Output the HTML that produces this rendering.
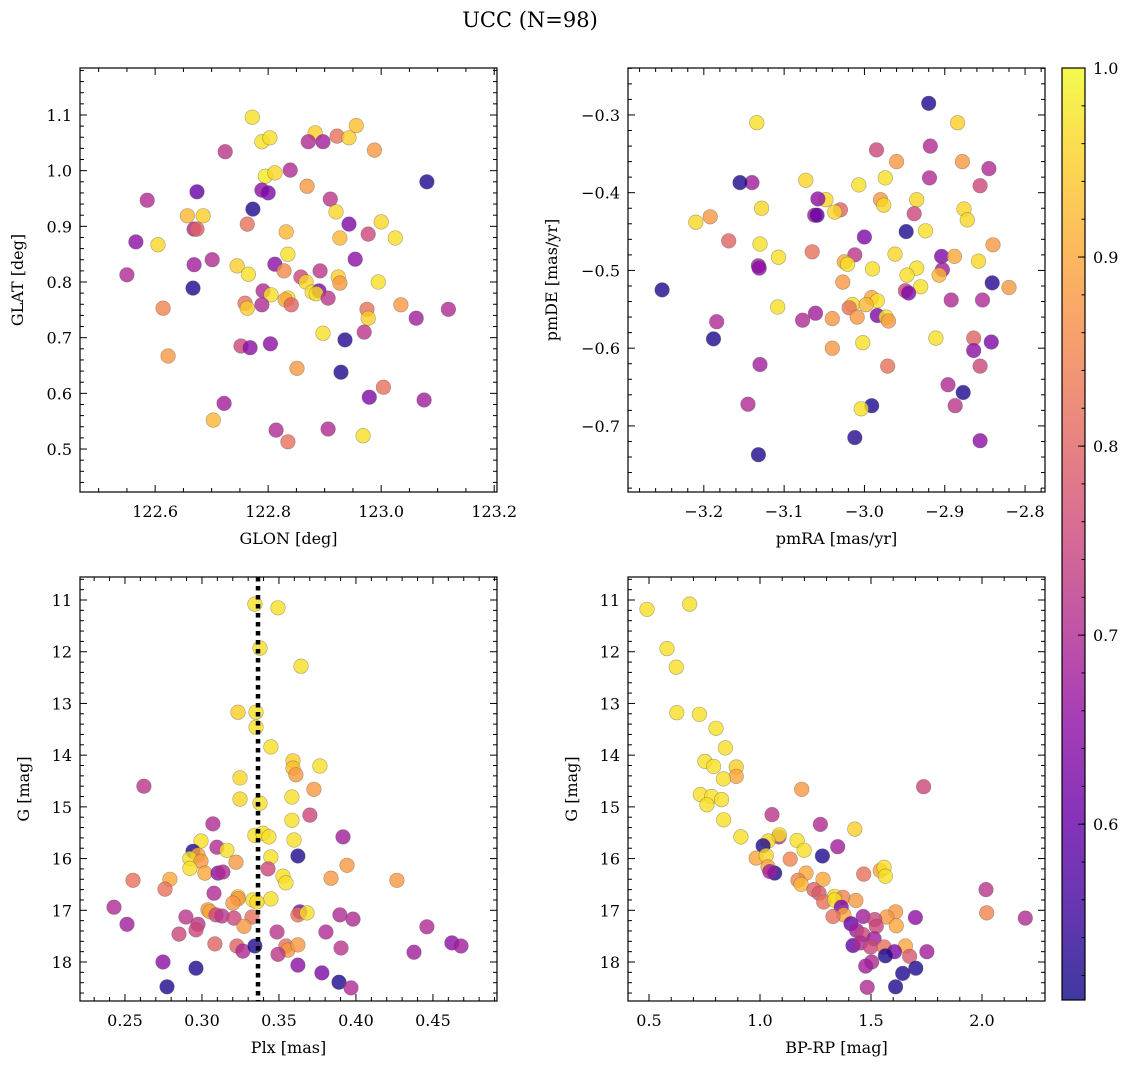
<!DOCTYPE html>
<html><head><meta charset="utf-8"><style>
html,body{margin:0;padding:0;background:#fff;}
svg{display:block;font-family:"DejaVu Serif","Liberation Serif",serif;}
</style></head><body>
<svg id="fig" width="1136" height="1068" viewBox="0 0 1136 1068" xmlns="http://www.w3.org/2000/svg">
<defs>
<linearGradient id="plasmaGrad" x1="0" y1="1" x2="0" y2="0">
<stop offset="0" stop-color="#0d0887"/><stop offset="0.1" stop-color="#41049d"/><stop offset="0.2" stop-color="#6a00a8"/><stop offset="0.3" stop-color="#8f0da4"/><stop offset="0.4" stop-color="#b12a90"/><stop offset="0.5" stop-color="#cc4778"/><stop offset="0.6" stop-color="#e16462"/><stop offset="0.7" stop-color="#f2844b"/><stop offset="0.8" stop-color="#fca636"/><stop offset="0.9" stop-color="#fcce25"/><stop offset="1" stop-color="#f0f921"/>
</linearGradient>
</defs>
<text x="530" y="27" font-size="21" text-anchor="middle">UCC (N=98)</text>
</svg>
<script>
// ---- Panel 1: GLON / GLAT ----
const p1Lon=[122.772,122.956,122.883,122.922,122.943,122.871,122.897,122.789,122.803,122.988,122.724,122.795,122.812,122.839,122.789,122.800,122.869,122.674,122.586,122.773,122.910,123.081,122.920,122.657,122.685,123.000,122.669,122.674,122.763,122.832,122.943,123.025,122.927,122.977,122.605,122.566,122.835,122.812,122.701,122.669,122.745,122.765,122.828,122.892,122.954,122.550,122.667,122.858,122.867,122.924,122.927,122.995,122.791,122.878,122.890,122.885,122.805,122.835,122.830,122.841,122.906,122.789,122.759,122.763,122.975,123.035,122.977,123.062,123.119,122.897,122.970,122.936,122.752,122.768,122.804,122.623,122.614,122.851,122.929,123.004,122.979,123.076,122.722,122.703,122.814,122.906,122.968,122.835];
const p1Lat=[1.096,1.081,1.068,1.062,1.059,1.052,1.052,1.052,1.059,1.037,1.034,0.990,0.996,1.001,0.965,0.960,0.972,0.962,0.947,0.931,0.949,0.980,0.926,0.919,0.919,0.908,0.895,0.895,0.904,0.890,0.904,0.879,0.879,0.886,0.867,0.872,0.850,0.832,0.840,0.831,0.829,0.814,0.820,0.820,0.841,0.813,0.789,0.809,0.800,0.809,0.798,0.800,0.784,0.782,0.784,0.779,0.777,0.771,0.768,0.759,0.771,0.759,0.762,0.753,0.751,0.759,0.735,0.735,0.751,0.708,0.710,0.696,0.685,0.682,0.689,0.667,0.753,0.645,0.638,0.611,0.593,0.588,0.582,0.552,0.534,0.536,0.524,0.513];
const p1Prob=[.97,.93,.95,.82,.95,.70,.68,.97,.97,.88,.72,.98,.96,.70,.65,.63,.88,.60,.70,.52,.72,.52,.96,.92,.95,.96,.70,.80,.82,.92,.63,.97,.92,.75,.96,.65,.97,.65,.70,.68,.95,.97,.86,.72,.65,.70,.52,.75,.96,.95,.88,.97,.70,.97,.63,.97,.97,.97,.90,.80,.72,.70,.82,.95,.82,.88,.95,.68,.70,.97,.72,.53,.75,.65,.65,.88,.85,.88,.52,.82,.63,.68,.68,.92,.70,.70,.97,.82];
// ---- Panel 2: pmRA / pmDE ----
const p2Ra=[-2.920,-3.134,-2.884,-2.918,-2.985,-2.960,-2.878,-2.919,-2.845,-3.073,-2.974,-3.140,-3.155,-2.856,-3.007,-3.048,-3.058,-2.935,-2.980,-2.976,-3.030,-3.128,-3.037,-3.062,-3.059,-2.938,-2.876,-2.872,-3.210,-3.192,-2.924,-2.948,-3.000,-3.169,-3.130,-2.840,-2.904,-2.888,-3.065,-3.012,-3.107,-2.858,-2.962,-3.025,-3.021,-3.132,-3.131,-2.935,-2.990,-2.903,-2.947,-2.907,-2.841,-3.027,-2.930,-2.820,-2.949,-2.945,-3.252,-2.991,-2.984,-2.892,-3.015,-2.998,-2.853,-3.019,-3.108,-2.984,-3.009,-3.061,-2.973,-3.040,-3.077,-2.970,-3.184,-2.864,-2.911,-3.188,-2.842,-3.002,-3.040,-2.864,-3.130,-2.971,-2.856,-2.896,-2.877,-2.887,-2.991,-3.145,-3.004,-3.012,-2.856,-3.132];
const p2De=[-0.285,-0.310,-0.310,-0.340,-0.345,-0.360,-0.360,-0.381,-0.369,-0.384,-0.381,-0.387,-0.387,-0.391,-0.390,-0.409,-0.408,-0.409,-0.409,-0.416,-0.422,-0.420,-0.425,-0.429,-0.429,-0.427,-0.421,-0.435,-0.438,-0.431,-0.449,-0.450,-0.457,-0.462,-0.466,-0.467,-0.482,-0.482,-0.476,-0.480,-0.483,-0.488,-0.479,-0.489,-0.492,-0.494,-0.497,-0.497,-0.498,-0.499,-0.506,-0.506,-0.516,-0.515,-0.521,-0.522,-0.526,-0.529,-0.525,-0.535,-0.539,-0.538,-0.544,-0.544,-0.538,-0.548,-0.547,-0.558,-0.560,-0.555,-0.560,-0.562,-0.564,-0.565,-0.566,-0.587,-0.587,-0.588,-0.592,-0.593,-0.600,-0.603,-0.621,-0.623,-0.623,-0.647,-0.657,-0.674,-0.674,-0.672,-0.678,-0.715,-0.719,-0.737];
const p2Prob=[.52,.97,.95,.70,.75,.88,.88,.70,.70,.96,.97,.68,.52,.75,.97,.96,.65,.96,.88,.96,.80,.96,.96,.68,.60,.75,.96,.96,.96,.88,.97,.52,.63,.80,.97,.88,.63,.90,.82,.72,.97,.96,.96,.90,.97,.68,.65,.97,.97,.68,.97,.92,.53,.88,.97,.88,.75,.63,.52,.90,.97,.70,.97,.92,.70,.82,.97,.63,.88,.68,.97,.88,.70,.88,.70,.80,.97,.52,.63,.97,.88,.65,.68,.82,.75,.70,.52,.72,.52,.70,.97,.53,.65,.52];
// ---- Panel 3: Plx / G ----
const p3Plx=[0.3344,0.3494,0.3377,0.3643,0.3234,0.3351,0.3351,0.3448,0.3591,0.3591,0.3610,0.3766,0.2623,0.3247,0.3727,0.3247,0.3377,0.3584,0.3701,0.3071,0.3584,0.3916,0.2994,0.3344,0.3396,0.3435,0.3598,0.2942,0.2974,0.3097,0.3162,0.2922,0.2994,0.3448,0.3623,0.3221,0.3942,0.2922,0.2552,0.2792,0.3019,0.3104,0.3136,0.3429,0.3526,0.3545,0.4266,0.3838,0.2760,0.3078,0.3234,0.3448,0.3331,0.3357,0.3234,0.3201,0.3039,0.3052,0.3091,0.3130,0.3208,0.3325,0.3636,0.3623,0.3682,0.3896,0.3981,0.2429,0.2513,0.2896,0.3273,0.2974,0.2961,0.2851,0.3487,0.3805,0.4461,0.3084,0.3227,0.3266,0.3545,0.3558,0.3623,0.3903,0.4623,0.4682,0.4377,0.3344,0.3494,0.3623,0.2747,0.2961,0.3779,0.3890,0.2773,0.3968];
const p3G=[11.08,11.15,11.93,12.28,13.17,13.17,13.46,13.84,14.11,14.25,14.38,14.21,14.60,14.44,14.66,14.85,14.93,14.81,15.16,15.33,15.26,15.58,15.66,15.55,15.51,15.58,15.64,15.86,15.93,15.78,15.84,16.00,16.05,15.97,15.95,16.07,16.13,16.19,16.42,16.40,16.28,16.28,16.26,16.20,16.34,16.47,16.42,16.38,16.59,16.67,16.74,16.78,16.80,16.84,16.78,16.86,16.99,17.03,17.09,17.11,17.15,17.13,17.03,17.09,17.05,17.09,17.17,16.94,17.27,17.13,17.31,17.27,17.38,17.46,17.42,17.42,17.32,17.65,17.69,17.79,17.69,17.77,17.67,17.73,17.63,17.69,17.81,17.69,17.85,18.06,18.00,18.12,18.21,18.39,18.48,18.50];
const p3Prob=[.97,.97,.97,.97,.95,.97,.97,.97,.95,.93,.88,.97,.72,.96,.88,.96,.97,.97,.75,.70,.97,.68,.97,.97,.97,.97,.97,.52,.90,.70,.97,.97,.88,.97,.52,.88,.88,.97,.82,.90,.90,.65,.70,.75,.97,.97,.88,.88,.82,.70,.93,.97,.97,.96,.88,.88,.88,.90,.75,.72,.75,.82,.63,.82,.97,.70,.70,.70,.68,.72,.88,.72,.75,.75,.72,.70,.70,.80,.80,.70,.82,.88,.88,.72,.65,.68,.68,.52,.72,.65,.65,.52,.63,.52,.52,.70];
const plxMedian=[0.3364];
// ---- Panel 4: BP-RP / G ----
const p4Col=[0.491,0.683,0.581,0.623,0.625,0.727,0.802,0.844,0.752,0.791,0.893,0.893,0.835,1.188,1.737,0.731,0.782,0.827,0.761,0.836,1.054,1.272,1.427,0.914,1.085,1.087,1.037,1.014,1.167,1.350,1.199,1.281,0.983,1.028,1.136,1.036,1.066,1.044,1.207,1.467,1.542,1.559,1.565,1.284,1.171,1.185,2.018,1.243,1.266,1.336,1.374,1.432,1.287,1.336,1.366,2.021,2.195,1.700,1.611,1.571,1.614,1.465,1.378,1.329,1.517,1.524,1.410,1.435,1.464,1.514,1.419,1.453,1.498,1.559,1.655,1.606,1.565,1.674,1.752,1.503,1.476,1.702,1.643,1.611,1.483];
const p4G=[11.18,11.08,11.94,12.30,13.18,13.21,13.48,13.86,14.12,14.22,14.23,14.41,14.46,14.66,14.61,14.76,14.80,14.86,14.96,15.25,15.15,15.34,15.43,15.58,15.58,15.54,15.66,15.75,15.65,15.77,15.84,15.95,15.99,15.94,16.01,16.16,16.28,16.25,16.28,16.30,16.23,16.17,16.34,16.40,16.42,16.50,16.60,16.60,16.67,16.73,16.75,16.81,16.84,16.80,16.94,17.05,17.15,17.14,17.03,17.13,17.30,17.12,17.09,17.12,17.18,17.31,17.26,17.39,17.47,17.55,17.68,17.63,17.71,17.71,17.69,17.80,17.88,17.89,17.80,18.00,18.08,18.12,18.22,18.48,18.49];
const p4Prob=[.97,.97,.97,.97,.97,.97,.97,.97,.97,.97,.95,.90,.97,.88,.75,.97,.97,.97,.97,.97,.72,.70,.95,.97,.70,.97,.96,.52,.97,.68,.97,.52,.90,.96,.85,.90,.52,.68,.90,.82,.90,.97,.97,.90,.85,.92,.72,.80,.78,.96,.85,.88,.82,.97,.63,.85,.70,.65,.88,.88,.90,.68,.90,.82,.75,.75,.60,.68,.75,.68,.60,.70,.75,.82,.90,.63,.52,.78,.68,.70,.68,.52,.52,.52,.70];
// colorbar
const cbTicks=[0.6,0.7,0.8,0.9,1.0];

const NS='http://www.w3.org/2000/svg';
const svg=document.getElementById('fig');
const VMIN=0.507,VMAX=1.0;
const stops=[[13,8,135],[65,4,157],[106,0,168],[143,13,164],[177,42,144],[204,71,120],[225,100,98],[242,132,75],[252,166,54],[252,206,37],[240,249,33]];
function plasma(v){let t=(v-VMIN)/(VMAX-VMIN);t=Math.max(0,Math.min(1,t));const f=t*10;const i=Math.min(9,Math.floor(f));const r=f-i;const a=stops[i],b=stops[i+1];return 'rgb('+[0,1,2].map(k=>Math.round(a[k]+(b[k]-a[k])*r)).join(',')+')';}
function el(tag,attrs,parent){const e=document.createElementNS(NS,tag);for(const k in attrs)e.setAttribute(k,attrs[k]);(parent||svg).appendChild(e);return e;}
function fmt(v,d){const s=Math.abs(v).toFixed(d);return (v<-1e-9?'\u2212':'')+s;}

function panel(c){
  const g=el('g',{});
  
  
  const sx=v=>c.L+(v-c.xmin)/(c.xmax-c.xmin)*(c.R-c.L);
  const sy=c.invert?(v=>c.T+(v-c.ymin)/(c.ymax-c.ymin)*(c.B-c.T)):(v=>c.B-(v-c.ymin)/(c.ymax-c.ymin)*(c.B-c.T));
  const pg=el('g',{},g);
  
  
  const n=Math.min(c.xs.length,c.ys.length,c.ps.length);
  for(let i=0;i<n;i++){
    const cc=el('circle',{cx:sx(c.xs[i]).toFixed(1),cy:sy(c.ys[i]).toFixed(1),r:7.3,fill:plasma(c.ps[i]),'fill-opacity':0.8,stroke:'#555','stroke-opacity':0.5,'stroke-width':0.6},pg);
    
    
  }
  if(c.vline){for(const v of c.vline){const l=el('line',{x1:sx(v),x2:sx(v),y1:c.T,y2:c.B,stroke:'#000','stroke-width':4.5,'stroke-dasharray':'4.5,4.5'},g);}}
  const tg=el('g',{stroke:'#000','stroke-width':1},g);
  const eps=1e-9;
  for(let v=Math.ceil((c.xmin)/c.xminor-eps)*c.xminor;v<=c.xmax+eps;v+=c.xminor){const x=sx(v);const maj=Math.abs(v/c.xmajor-Math.round(v/c.xmajor))<1e-6;const len=maj?7:4;el('line',{x1:x,x2:x,y1:c.B,y2:c.B-len},tg);el('line',{x1:x,x2:x,y1:c.T,y2:c.T+len},tg);}
  for(let v=Math.ceil((c.ymin)/c.yminor-eps)*c.yminor;v<=c.ymax+eps;v+=c.yminor){const y=sy(v);const maj=Math.abs(v/c.ymajor-Math.round(v/c.ymajor))<1e-6;const len=maj?7:4;el('line',{y1:y,y2:y,x1:c.L,x2:c.L+len},tg);el('line',{y1:y,y2:y,x1:c.R,x2:c.R-len},tg);}
  for(let v=Math.ceil(c.xmin/c.xmajor-eps)*c.xmajor;v<=c.xmax+eps;v+=c.xmajor){const t=el('text',{x:sx(v),y:c.B+25,'font-size':16,'text-anchor':'middle'},g);t.textContent=fmt(v,c.xd);}
  for(let v=Math.ceil(c.ymin/c.ymajor-eps)*c.ymajor;v<=c.ymax+eps;v+=c.ymajor){const t=el('text',{x:c.L-8,y:sy(v)+6,'font-size':16,'text-anchor':'end'},g);t.textContent=fmt(v,c.yd);}
  el('rect',{x:c.L,y:c.T,width:c.R-c.L,height:c.B-c.T,fill:'none',stroke:'#000','stroke-width':1.2},g);
  const xl=el('text',{x:(c.L+c.R)/2,y:c.B+52,'font-size':16,'text-anchor':'middle'},g);xl.textContent=c.xlabel;
  const cy=(c.T+c.B)/2;const yl=el('text',{x:c.ylx,y:cy,'font-size':16,'text-anchor':'middle',transform:'rotate(-90 '+c.ylx+' '+cy+')'},g);yl.textContent=c.ylabel;
}

panel({name:'glon-glat-panel',L:80,R:497,T:68,B:492,xmin:122.467,xmax:123.205,ymin:0.4228,ymax:1.1844,xs:p1Lon,ys:p1Lat,ps:p1Prob,xmajor:0.2,xminor:0.05,ymajor:0.1,yminor:0.02,xd:1,yd:1,xlabel:'GLON [deg]',ylabel:'GLAT [deg]',ylx:23});
panel({name:'pm-panel',L:628,R:1045,T:68,B:492,xmin:-3.2944,xmax:-2.7752,ymin:-0.785,ymax:-0.2396,xs:p2Ra,ys:p2De,ps:p2Prob,xmajor:0.1,xminor:0.02,ymajor:0.1,yminor:0.02,xd:1,yd:1,xlabel:'pmRA [mas/yr]',ylabel:'pmDE [mas/yr]',ylx:557});
panel({name:'plx-g-panel',L:80,R:497,T:577,B:1001,xmin:0.2208,xmax:0.4916,ymin:10.555,ymax:18.754,invert:true,xs:p3Plx,ys:p3G,ps:p3Prob,xmajor:0.05,xminor:0.01,ymajor:1,yminor:0.2,xd:2,yd:0,xlabel:'Plx [mas]',ylabel:'G [mag]',ylx:29,vline:plxMedian});
panel({name:'cmd-panel',L:628,R:1045,T:577,B:1001,xmin:0.4054,xmax:2.2838,ymin:10.555,ymax:18.754,invert:true,xs:p4Col,ys:p4G,ps:p4Prob,xmajor:0.5,xminor:0.1,ymajor:1,yminor:0.2,xd:1,yd:0,xlabel:'BP-RP [mag]',ylabel:'G [mag]',ylx:577});

const cb=el('g',{});


const cT=68,cB=1000,cL=1062,cR=1085;
const cs=v=>cB-(v-VMIN)/(VMAX-VMIN)*(cB-cT);
el('rect',{x:cL,y:cT,width:cR-cL,height:cB-cT,fill:'url(#plasmaGrad)','fill-opacity':0.8},cb);
for(let v=0.52;v<=1.0001;v+=0.02){el('line',{x1:cR,x2:cR-3.5,y1:cs(v),y2:cs(v),stroke:'#000','stroke-width':1},cb);}
for(const v of cbTicks){el('line',{x1:cR,x2:cR-7,y1:cs(v),y2:cs(v),stroke:'#000','stroke-width':1},cb);const t=el('text',{x:cR+8,y:cs(v)+6,'font-size':16},cb);t.textContent=v.toFixed(1);}
el('rect',{x:cL,y:cT,width:cR-cL,height:cB-cT,fill:'none',stroke:'#000','stroke-width':1.2},cb);
</script>
</body></html>
